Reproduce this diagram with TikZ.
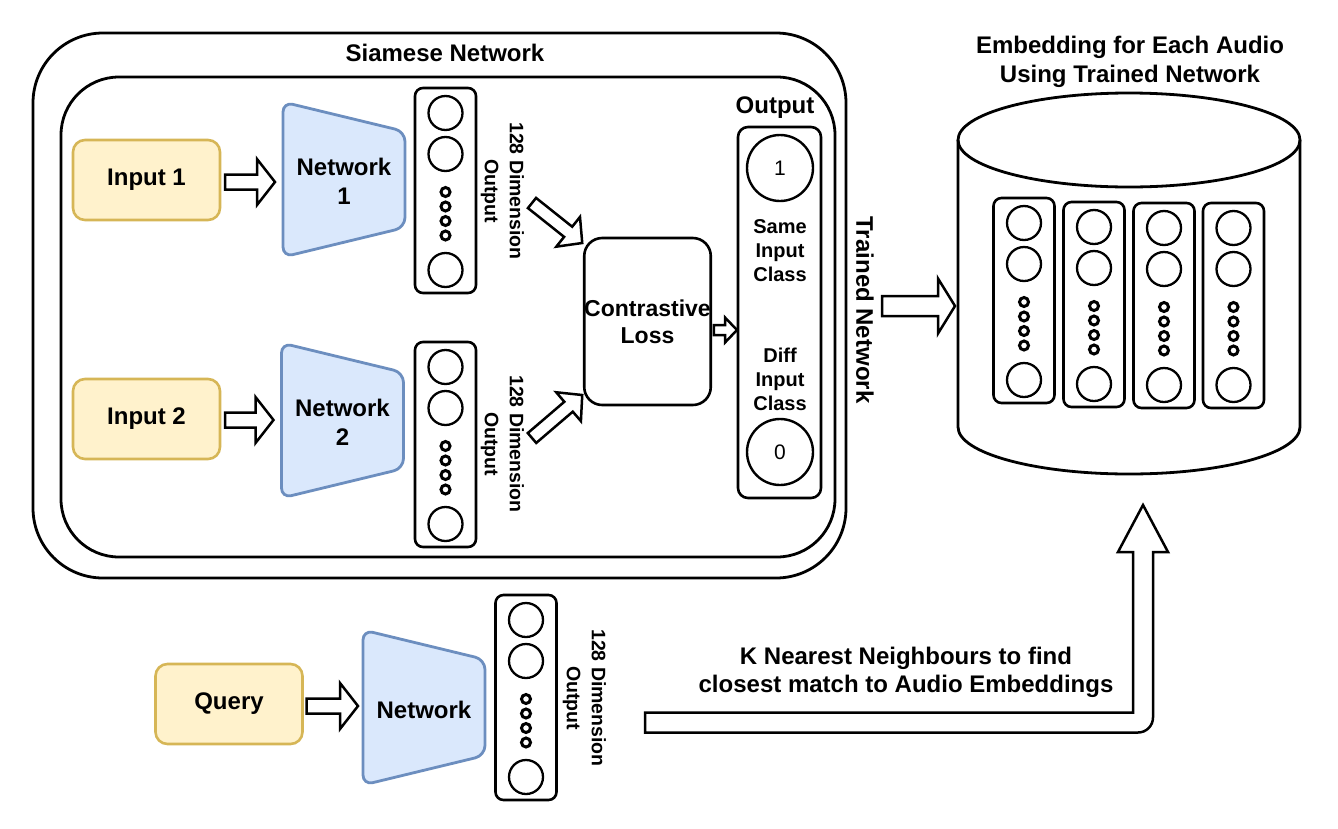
\documentclass[tikz,border=0pt]{standalone}
\usepackage{fontspec}
\setmainfont{Liberation Sans}
\usetikzlibrary{calc}
\definecolor{inFill}{HTML}{FFF2CC}
\definecolor{inDraw}{HTML}{D6B656}
\definecolor{netFill}{HTML}{DAE8FC}
\definecolor{netDraw}{HTML}{6C8EBF}

% block (outline) arrow: [style] start, tip, shaft half-width, head half-width, head length
\newcommand\flexarrow[6][]{%
  \coordinate (fa-s) at (#2);
  \coordinate (fa-t) at (#3);
  \coordinate (fa-b) at ($(fa-t)!#6!(fa-s)$);
  \draw[flex,#1] ($(fa-s)!#4!90:(fa-t)$) -- ($(fa-b)!#4!-90:(fa-s)$) -- ($(fa-b)!#5!-90:(fa-s)$)
     -- (fa-t) -- ($(fa-b)!#5!90:(fa-s)$) -- ($(fa-b)!#4!90:(fa-s)$) -- ($(fa-s)!#4!-90:(fa-t)$) -- cycle;
}
% network trapezoid: name, cx, cy, text
\newcommand\netshape[4]{%
  \draw[netst] ({#2-61},{#3-77.5}) -- ({#2+61},{#3-48}) -- ({#2+61},{#3+48}) -- ({#2-61},{#3+77.5}) -- cycle;
  \node[nettext, minimum width=122pt, minimum height=155pt] (#1) at (#2,{#3+2}) {#4};
}
% vector column: name, cx, top
\newcommand\veccol[3]{%
  \node[colbox, anchor=north] (#1) at (#2,#3) {};
  \foreach \dy in {25,66,182} \draw[circ] (#2,{#3+\dy}) circle[radius=17pt];
  \foreach \dy in {104,118.5,133,147.5} \draw[dotc] (#2,{#3+\dy}) circle[radius=4.5pt];
}

\begin{document}
\begin{tikzpicture}[x=1pt,y=-1pt,
  every node/.style={inner sep=0pt, outer sep=0pt},
  lbl/.style={font=\fontsize{24}{29}\selectfont\bfseries, align=center},
  dimtext/.style={font=\fontsize{19.5}{25}\selectfont\bfseries, align=center},
  cls/.style={font=\fontsize{20}{24}\selectfont\bfseries, align=center},
  inbox/.style={draw=inDraw, fill=inFill, line width=2.6pt, rounded corners=12pt,
                minimum width=147pt, minimum height=80pt, lbl},
  netst/.style={draw=netDraw, fill=netFill, line width=2.8pt, rounded corners=10pt},
  nettext/.style={lbl},
  colbox/.style={draw, line width=2.6pt, rounded corners=8pt, minimum width=61pt, minimum height=205pt},
  circ/.style={draw, line width=2.3pt},
  dotc/.style={draw, line width=3pt},
  flex/.style={draw, fill=white, line width=2.5pt},
  sbox/.style={draw, line width=2.8pt},
]
\useasboundingbox (0,0) rectangle (1338,828);
\fill[white] (0,0) rectangle (1338,828);

% Siamese containers
\node[sbox, rounded corners=70pt, minimum width=813pt, minimum height=545pt] (outer) at (439.5,305.5) {};
\node[sbox, rounded corners=58pt, minimum width=774pt, minimum height=480pt] (inner) at (448,317) {};
\node[lbl] (title) at (445,53) {Siamese Network};

% inputs
\node[inbox] (in1) at (146.5,180) {Input 1};
\node[inbox] (in2) at (146.5,419) {Input 2};
\node[inbox] (query) at (229,704) {Query};

% networks
\netshape{net1}{344}{179.5}{Network\\1}
\netshape{net2}{342.5}{420.5}{Network\\2}
\netshape{netq}{424}{707.5}{Network}

% output vectors
\veccol{col1}{445.5}{88}
\veccol{col2}{445.5}{342}
\veccol{colq}{526}{595}

\node[dimtext, rotate=-90] (dim1) at (502.5,191) {128 Dimension\\Output};
\node[dimtext, rotate=-90] (dim2) at (502.5,444) {128 Dimension\\Output};
\node[dimtext, rotate=-90] (dimq) at (584.5,698) {128 Dimension\\Output};

% contrastive loss
\node[draw, line width=2.6pt, rounded corners=18pt, minimum width=125pt, minimum height=167pt,
      font=\fontsize{23}{27}\selectfont\bfseries, align=center] (cl) at (647.5,321.5) {Contrastive\\Loss};

% output
\node[draw, line width=2.6pt, rounded corners=10pt, minimum width=83pt, minimum height=371pt] (out) at (779.5,312.5) {};
\node[lbl] (outlbl) at (775,108) {Output};
\node[draw, circle, line width=2.4pt, minimum size=66pt, font=\fontsize{21}{24}\selectfont] (one) at (780,168) {1};
\node[draw, circle, line width=2.4pt, minimum size=66pt, font=\fontsize{21}{24}\selectfont] (zero) at (780,452) {0};
\node[cls] (same) at (780,251) {Same\\Input\\Class};
\node[cls] (diff) at (780,379) {Diff\\Input\\Class};

\node[lbl, rotate=-90] (trained) at (865,310) {Trained Network};

% database cylinder
\node[minimum width=342pt, minimum height=381pt] (db) at (1129,283.5) {};
\draw[sbox] (958,140) -- (958,427) .. controls (958,453) and (1034.6,474) .. (1129,474)
   .. controls (1223.4,474) and (1300,453) .. (1300,427) -- (1300,140);
\draw[sbox] (1129,140) ellipse [x radius=171pt, y radius=47pt];
\node[lbl] (embt) at (1130,62) {Embedding for Each Audio\\Using Trained Network};

\veccol{e1}{1024}{198}
\veccol{e2}{1094}{202}
\veccol{e3}{1164}{203}
\veccol{e4}{1233.5}{203}

% arrows
\flexarrow{$(in1.east)+(5,2)$}{$(net1.west|-in1.east)+(-8,2)$}{7.5pt}{23pt}{18pt}
\flexarrow{$(in2.east)+(5,1)$}{$(net2.west|-in2.east)+(-8,1)$}{7.5pt}{23pt}{18pt}
\flexarrow{$(query.east)+(4,2)$}{$(netq.west|-query.east)+(-5,2)$}{7.5pt}{23pt}{18pt}

\coordinate (d1) at (532,203);
\flexarrow{d1}{$(cl.north west)+(-2,5)$}{6.5pt}{19pt}{18pt}
\coordinate (d2) at (532,438);
\flexarrow{d2}{$(cl.south west)+(-2,-10)$}{6.5pt}{19pt}{18pt}

\flexarrow{$(cl.east)+(3,8.5)$}{$(out.west|-cl.east)+(-1,8.5)$}{5pt}{12.5pt}{12pt}

\coordinate (tn) at (882,306);
\flexarrow{tn}{$(db.west|-tn)+(-3,0)$}{10pt}{27.5pt}{17pt}

% KNN L-shaped arrow
\coordinate (kstart) at (645,722.5);
\coordinate (ktip) at ($(db.south)+(14,31)$);
\coordinate (kcorner) at (kstart -| ktip);
\draw[flex] ($(kstart)+(0,-10)$) -- ($(kcorner)+(-10,-10)$) -- ($(ktip)+(-10,47)$) -- ($(ktip)+(-25,47)$)
   -- (ktip) -- ($(ktip)+(25,47)$) -- ($(ktip)+(10,47)$) -- ($(kcorner)+(10,-5)$)
   .. controls ($(kcorner)+(10,3.3)$) and ($(kcorner)+(3.3,10)$) .. ($(kcorner)+(-5,10)$)
   -- ($(kstart)+(0,10)$) -- cycle;
\node[lbl, font=\fontsize{24}{28}\selectfont\bfseries] (knn) at (906,672) {K Nearest Neighbours to find\\closest match to Audio Embeddings};
\end{tikzpicture}
\end{document}
